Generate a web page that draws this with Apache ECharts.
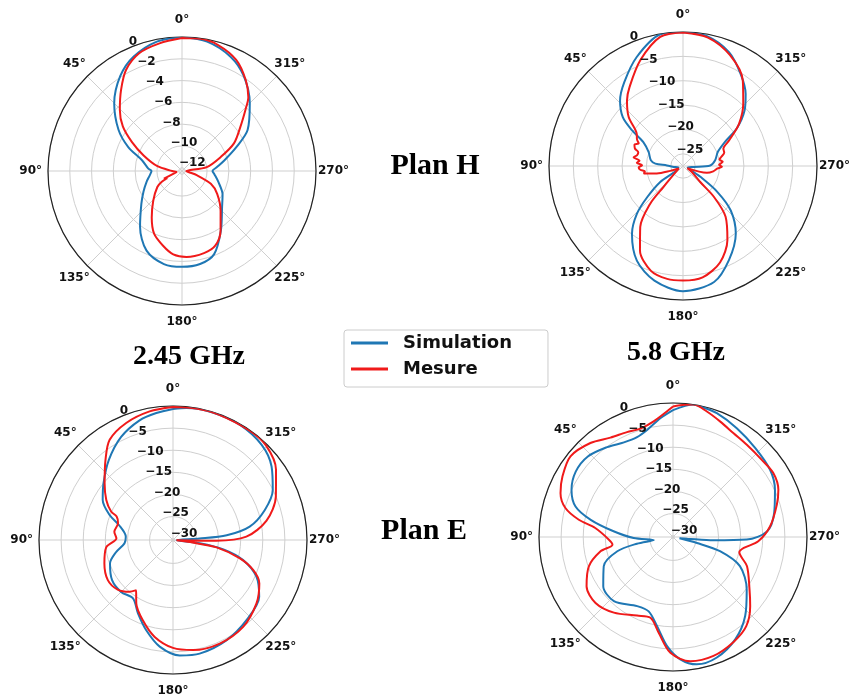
<!DOCTYPE html>
<html>
<head>
<meta charset="utf-8">
<script src="https://cdn.jsdelivr.net/npm/echarts@6/dist/echarts.min.js"></script>
<style>
  html, body { margin: 0; background: #fff; }
  #chart { width: 850px; height: 697px; }
</style>
</head>
<body>
<div id="chart"></div>
<script>
// [angle (deg), gain (dB)]
var hSim245 = [[0,0],[11,-0.2],[23,-0.9],[33,-1.9],[45,-3.5],[57,-5.35],[66,-6.9],[75,-8.5],[86,-9.2],[90,-9.5],[98,-9.3],[107,-8.9],[118,-8.3],[129,-7.5],[143,-5.9],[156,-4.3],[169,-3.6],[180,-3.5],[191,-3.6],[201,-4.1],[213,-5.75],[228,-7.35],[240,-8.0],[253,-8.8],[264,-9.3],[270,-9.5],[276,-9.1],[284,-8.3],[294,-6.8],[302,-5.2],[315,-3.5],[327,-1.9],[337,-0.9],[349,-0.2],[360,0]];
var hMes245 = [[0,-0.1],[10,-0.4],[20,-0.8],[29,-1.7],[37,-3.0],[45.5,-4.3],[53,-5.5],[60,-7.0],[68,-8.5],[79,-10.0],[90,-11.4],[100,-11.8],[108,-11.4],[113,-10.5],[116,-10.8],[118,-10.2],[123,-9.6],[136,-8.5],[147,-7.2],[156,-6.0],[166,-5.2],[174,-4.6],[183,-4.4],[195,-4.5],[204,-4.8],[213,-5.8],[224,-7.2],[237,-8.45],[246,-9.4],[254,-10.85],[261,-11.7],[268,-11.9],[279,-10.0],[290,-8.5],[298,-6.9],[307,-5.6],[314,-4.2],[318,-3.2],[325,-2.1],[334,-0.95],[344,-0.27],[352,-0.05],[360,-0.1]];
var hSim58 = [[0,0],[10,-0.1],[23,-3.2],[35,-6.5],[44,-8.9],[51,-11.6],[55,-14.7],[59,-18.0],[68,-19.9],[80,-20.8],[85,-21.8],[88,-24.2],[96,-25.6],[110,-26.5],[125,-21.8],[131,-17.8],[136,-13.9],[143,-10.1],[154,-5.9],[166,-3.25],[180,-1.8],[195,-2.85],[206,-6.0],[218,-9.9],[227,-14.1],[233,-18.7],[238,-23.3],[252,-26.5],[265,-25.3],[271,-21.9],[280,-20.8],[292,-19.8],[300,-17.5],[305,-14.0],[312,-10.5],[319,-7.9],[328,-5.2],[338,-2.3],[349.5,-0.4],[360,0]];
var hMes58 = [[0,-0.1],[10,-0.6],[22,-4.1],[34,-7.9],[40.5,-9.8],[48,-12.5],[55,-15.9],[60,-16.6],[63,-17.3],[66,-16.6],[70,-17.0],[73,-17.9],[77,-17.8],[80,-17.2],[83,-18.5],[86,-18.0],[89,-19.1],[92,-18.4],[95,-18.7],[98,-19.6],[101,-19.3],[106,-21.9],[111,-24.7],[120,-26.5],[137,-21.6],[139,-17.2],[145,-12.2],[153,-8.05],[163,-5.0],[172,-4.1],[180,-4.0],[190,-4.3],[201,-6.3],[211,-9.8],[220,-13.9],[225,-18.5],[227,-22.6],[236,-25.3],[244,-26.5],[254,-22.4],[260,-21.2],[266,-20.4],[269,-19.5],[272,-20.1],[276,-19.3],[280,-19.9],[283,-19.5],[288,-18.6],[293,-18.5],[299,-16.7],[307,-13.1],[316,-9.7],[325,-6.1],[337,-2.8],[349,-0.65],[360,-0.1]];
var eSim245 = [[0,-0.67],[7.5,-1.35],[15.6,-2.2],[26.7,-4.2],[38.7,-7.1],[50.7,-10.0],[60.3,-12.0],[68.5,-14.9],[74.5,-17.6],[86,-19.6],[94,-19.3],[102.5,-17.0],[110.4,-15.1],[123.4,-13.8],[135,-13.7],[145.6,-14.3],[154.5,-11.9],[163.5,-9.0],[172.9,-6.0],[183.3,-4.15],[193.2,-3.9],[208,-4.6],[222.5,-5.7],[236.6,-6.95],[246.3,-9.7],[254,-13.8],[259.4,-18.7],[262.9,-24.2],[267,-29.5],[273,-24.3],[275,-18.1],[279.9,-12.7],[288,-8.5],[296.7,-5.05],[306.7,-2.5],[317,-0.9],[329.6,-0.2],[342.7,-0.1],[354.2,-0.3],[360,-0.67]];
var eMes245 = [[0,-0.2],[10.3,-0.75],[21.8,-1.8],[32.3,-3.5],[40.1,-6.6],[50.3,-10.2],[59,-12.7],[65.3,-14.9],[67.4,-16.5],[73,-17.3],[81.9,-16.9],[88.3,-17.5],[96.3,-15.1],[108.9,-13.9],[121.6,-13.0],[131.9,-13.5],[140,-15.0],[143.7,-16.2],[150,-13.7],[159.4,-10.9],[169.3,-8.0],[180,-5.9],[190.3,-5.0],[204.3,-4.6],[218.9,-5.05],[232.8,-6.6],[243.3,-8.45],[249.4,-10.9],[254.6,-14.6],[260.4,-20.3],[263,-26.4],[266,-29.5],[269.1,-20.5],[272.6,-13.7],[281.7,-8.7],[292.9,-5.05],[304.3,-2.1],[315.5,-0.3],[325,-0.1],[340,-0.1],[350,-0.1],[360,-0.2]];
var eSim58 = [[0,-1.6],[6.1,-3.3],[13.6,-5.4],[19.8,-6.3],[27.4,-6.2],[36.3,-5.1],[46.6,-3.8],[56.1,-3.8],[65.1,-5.0],[72.6,-7.2],[78.2,-11.3],[84.5,-16.8],[91.5,-21.4],[99,-25.9],[100.5,-22.0],[104.4,-17.3],[112.9,-13.3],[125.2,-11.0],[137.3,-10.6],[152.6,-12.7],[161.9,-12.6],[169.8,-9.85],[176.9,-5.6],[183.4,-2.6],[190.6,-1.0],[200,-1.3],[211.3,-3.2],[222.4,-6.1],[234.6,-9.85],[246.5,-13.8],[253.2,-19.2],[256,-24.7],[259,-28.8],[263,-27.0],[265.3,-21.1],[268,-13.6],[273.4,-9.0],[283.3,-6.8],[294.8,-4.9],[304.7,-3.6],[317.2,-2.9],[329.6,-1.8],[340.5,-0.6],[348.3,-0.1],[351.2,0],[360,-1.6]];
var eMes58 = [[0,-0.8],[9.5,-3.8],[16.7,-4.7],[23.7,-4.4],[32.2,-3.75],[41.3,-2.0],[51.8,-0.8],[61.3,-1.8],[68.7,-3.0],[74.9,-5.1],[79.6,-8.65],[83.4,-12.6],[92.4,-15.8],[97.2,-16.5],[101.2,-13.6],[109.2,-10.15],[119.7,-7.8],[130.4,-7.3],[142,-8.6],[155.4,-10.75],[164.4,-11.35],[171.5,-8.4],[178.7,-4.1],[187.9,-1.95],[198.8,-1.9],[210,-2.9],[219.4,-4.2],[228.1,-6.85],[235.5,-9.3],[248.4,-12.3],[257,-14.9],[261.2,-14.1],[267.1,-11.0],[276.3,-8.2],[287.3,-5.7],[294.1,-4.2],[302.4,-3.4],[311,-3.7],[321.3,-3.6],[329.7,-3.15],[337.7,-2.1],[344.9,-0.9],[351.2,0],[355,-0.3],[360,-0.8]];

var seriesNames = ['Simulation', 'Mesure'];
var seriesColors = ['#1f77b4', '#f01a1a'];
var titles = ['Plan H', '2.45 GHz', '5.8 GHz', 'Plan E'];

// one entry per polar plot
var plots = [
  { center: [182, 171], min: -12.3, step: 2, sim: hSim245, mes: hMes245 },
  { center: [683, 166], min: -27.5, step: 5, sim: hSim58, mes: hMes58 },
  { center: [173, 540], min: -30.3, step: 5, sim: eSim245, mes: eMes245 },
  { center: [673, 537], min: -30.3, step: 5, sim: eSim58, mes: eMes58 }
];
var R = 134;

var font = 'DejaVu Sans';
function richStyle(pad) {
  return { fontFamily: font, fontWeight: 'bold', fontSize: 12, color: '#111', padding: pad };
}
// paddings so that every angle label ends up centred ~17px outside the circle
var labelRich = {
  v: richStyle([15, 0, 15, 0]),
  l: richStyle([0, 10, 0, 0]),
  r: richStyle([0, 0, 0, 6]),
  d2: richStyle([8.9, 4.4, 8.9, 4.4]),
  d3: richStyle([8.9, 0.4, 8.9, 0.4])
};

function angleLabel(v) {
  if (v >= 360) return '';
  var key;
  if (v % 180 === 0) key = 'v';
  else if (v === 90) key = 'l';
  else if (v === 270) key = 'r';
  else key = v < 100 ? 'd2' : 'd3';
  return '{' + key + '|' + v + '°}';
}

function radiusLabel(step) {
  return function (v) {
    var r = Math.round(v);
    if (Math.abs(v - r) > 1e-6 || r % step !== 0) return '';
    return r === 0 ? '0' : '\u2212' + Math.abs(r);
  };
}

var polar = [], angleAxis = [], radiusAxis = [], series = [];

plots.forEach(function (p, i) {
  polar.push({ center: p.center, radius: R });
  angleAxis.push({
    polarIndex: i, type: 'value', min: 0, max: 360, interval: 45,
    startAngle: 90, clockwise: false,
    axisLine: { lineStyle: { color: '#222', width: 1.2 } },
    axisTick: { show: false },
    splitLine: { lineStyle: { color: '#cfcfcf', width: 1 } },
    axisLabel: { formatter: angleLabel, margin: -4, rich: labelRich }
  });
  radiusAxis.push({
    polarIndex: i, type: 'value', min: p.min, max: 0,
    minInterval: p.step, maxInterval: p.step,
    axisLine: { show: false }, axisTick: { show: false }, axisLabel: { show: false },
    splitLine: { show: true, lineStyle: { color: '#cfcfcf', width: 1 } }
  });
  seriesNames.forEach(function (name, k) {
    var pts = k === 0 ? p.sim : p.mes;
    series.push({
      name: name, type: 'line', coordinateSystem: 'polar', polarIndex: i,
      data: pts.map(function (d) { return [d[1], d[0]]; }),
      symbol: 'none', smooth: 0.3,
      lineStyle: { color: seriesColors[k], width: 2 },
      itemStyle: { color: seriesColors[k] },
      z: 2 + k
    });
  });
});

// second polar on each plot, only to put the radial labels at 22.5 deg
plots.forEach(function (p, i) {
  polar.push({ center: p.center, radius: R });
  angleAxis.push({
    polarIndex: 4 + i, type: 'value', min: 0, max: 360,
    startAngle: 112.5, clockwise: false, show: false
  });
  radiusAxis.push({
    polarIndex: 4 + i, type: 'value', min: p.min, max: 0,
    minInterval: p.step, maxInterval: p.step, z: 10,
    axisLine: { show: false }, axisTick: { show: false }, splitLine: { show: false },
    axisLabel: {
      formatter: radiusLabel(p.step), margin: 2, align: 'left', verticalAlign: 'bottom',
      fontFamily: font, fontWeight: 'bold', fontSize: 12, color: '#111'
    }
  });
});

var titleStyle = { fontFamily: 'Liberation Serif', fontWeight: 'bold', fontSize: 30, color: '#000' };
var gStyle = { fontFamily: 'Liberation Serif', fontWeight: 'bold', fontSize: 28, color: '#000' };

var chart = echarts.init(document.getElementById('chart'));
chart.setOption({
  backgroundColor: '#fff',
  animation: false,
  title: [
    { text: titles[0], left: 435, top: 151, textAlign: 'center', padding: 0, textStyle: titleStyle },
    { text: titles[1], left: 189, top: 343, textAlign: 'center', padding: 0, textStyle: gStyle },
    { text: titles[2], left: 676, top: 339, textAlign: 'center', padding: 0, textStyle: gStyle },
    { text: titles[3], left: 424, top: 516, textAlign: 'center', padding: 0, textStyle: titleStyle }
  ],
  legend: {
    data: seriesNames,
    orient: 'vertical',
    left: 344, top: 330,
    icon: 'rect', itemWidth: 37, itemHeight: 3, itemGap: 8,
    padding: [4, 36, 9, 7],
    borderColor: '#cccccc', borderWidth: 1, borderRadius: 3,
    textStyle: { fontFamily: font, fontWeight: 'bold', fontSize: 18, color: '#111', padding: [0, 0, 0, 10] }
  },
  polar: polar,
  angleAxis: angleAxis,
  radiusAxis: radiusAxis,
  series: series
});
</script>
</body>
</html>
